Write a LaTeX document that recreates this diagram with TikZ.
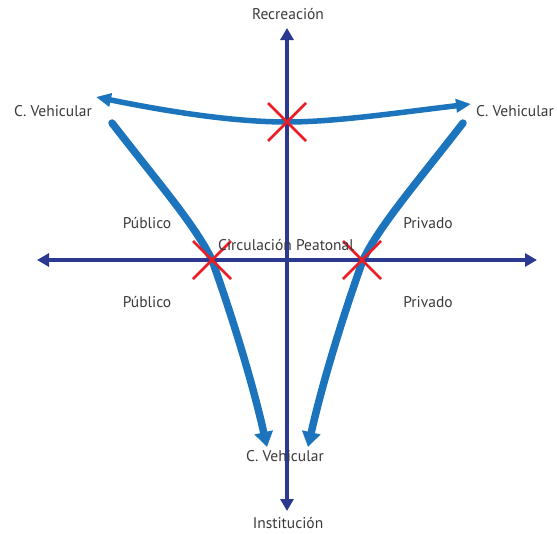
\documentclass[tikz,border=0pt]{standalone}
\usepackage{fontspec}
\setmainfont{PT Sans}
\usetikzlibrary{arrows.meta}
\definecolor{EjeAzul}{HTML}{2B3990}
\definecolor{FlujoAzul}{HTML}{1C75BC}
\definecolor{CruceRojo}{HTML}{ED1C24}
\definecolor{TextoGris}{HTML}{3A3A3A}

\begin{document}
\begin{tikzpicture}[x=1pt,y=-1pt,
    eje/.style={EjeAzul,line width=4.5pt,{Triangle[length=12pt,width=13pt]}-{Triangle[length=12pt,width=13pt]}},
    flujo/.style={FlujoAzul,line width=7.5pt},
    cruce/.style={CruceRojo,line width=2.8pt},
    rotulo/.style={text=TextoGris,font=\fontsize{15.5}{17}\selectfont,inner sep=0pt}]
    \useasboundingbox (0,0) rectangle (557,533);

    \coordinate (supO) at (96,97);
    \coordinate (supC) at (287,122);
    \coordinate (supE) at (471,104);
    \draw[flujo,line width=5.5pt,{Triangle[length=15pt,width=13pt]}-{Triangle[length=15pt,width=13pt]}]
      (supO) .. controls (180,114) and (240,122) .. (supC)
      .. controls (335,122) and (395,113) .. (supE);

    \coordinate (izqA) at (112,123);
    \coordinate (izqC) at (212,260);
    \coordinate (izqB) at (267,447);
    \draw[flujo,line cap=round,-{Triangle[length=15pt,width=18pt]}]
      (izqA) .. controls (160,185) and (195,225) .. (izqC)
      .. controls (230,310) and (252,380) .. (izqB);

    \coordinate (derA) at (463,123);
    \coordinate (derC) at (363,260);
    \coordinate (derB) at (308,447);
    \draw[flujo,line cap=round,-{Triangle[length=15pt,width=18pt]}]
      (derA) .. controls (415,185) and (380,225) .. (derC)
      .. controls (345,310) and (323,380) .. (derB);

    \coordinate (ejeN) at (287,28);
    \coordinate (ejeS) at (287,511);
    \coordinate (ejeO) at (37,260);
    \coordinate (ejeE) at (537,260);
    \draw[eje] (ejeS) -- (ejeN);
    \draw[eje] (ejeO) -- (ejeE);

    \foreach \cx/\cy in {287/122,212/260,362/260} {
      \draw[cruce] (\cx-19,\cy-19) -- (\cx+19,\cy+19);
      \draw[cruce] (\cx-19,\cy+19) -- (\cx+19,\cy-19);
    }

    \node[rotulo] (recreacion) at (288,14) {Recreación};
    \node[rotulo] (institucion) at (288,523) {Institución};
    \node[rotulo] (vehIzq) at (53,111) {C. Vehicular};
    \node[rotulo] (vehDer) at (515,111) {C. Vehicular};
    \node[rotulo] (vehInf) at (285,456) {C. Vehicular};
    \node[rotulo] (publicoN) at (147,223) {Público};
    \node[rotulo] (publicoS) at (147,302) {Público};
    \node[rotulo] (privadoN) at (428,223) {Privado};
    \node[rotulo] (privadoS) at (428,302) {Privado};
    \node[rotulo] (peatonal) at (286,245) {Circulación Peatonal};
  \end{tikzpicture}
\end{document}
